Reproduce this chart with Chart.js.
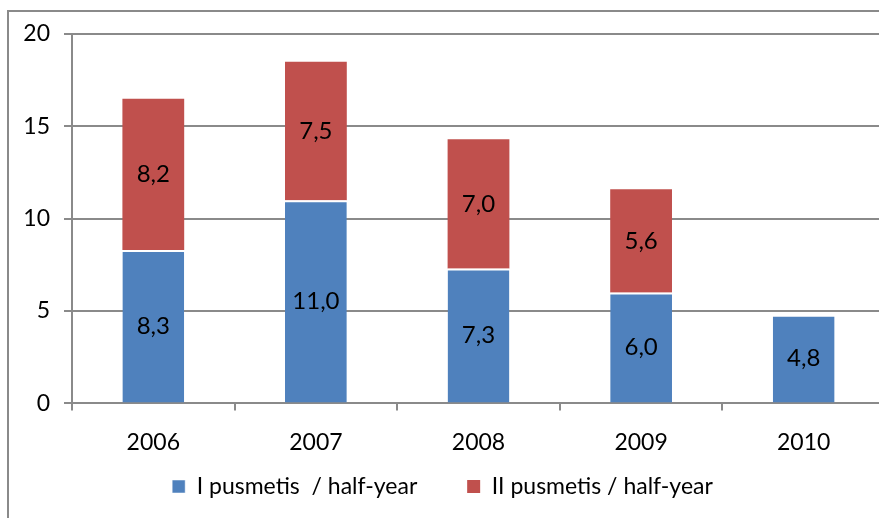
<!DOCTYPE html>
<html>
<head>
<meta charset="utf-8">
<script src="https://cdn.jsdelivr.net/npm/chart.js@4"></script>
<style>
  html, body { margin: 0; padding: 0; overflow: hidden; background: #fff; }
  #wrap { position: absolute; left: 0; top: 0; }
</style>
</head>
<body>
<div id="wrap"><canvas id="myChart" width="900" height="540"></canvas></div>
<script>
'use strict';
// chart data
let years = ['2006', '2007', '2008', '2009', '2010'];
let firstHalf = [8.3, 11.0, 7.3, 6.0, 4.8];
let secondHalf = [8.2, 7.5, 7.0, 5.6, null];
let seriesNames = ['I pusmetis  / half-year', 'II pusmetis / half-year'];
let yTicks = [0, 5, 10, 15, 20];

const FONT = 'Lato, "DejaVu Sans", sans-serif';

// outer chart frame (left + top border)
const framePlugin = {
  id: 'frame',
  beforeDraw(chart) {
    let ctx = chart.ctx;
    ctx.save();
    ctx.strokeStyle = '#8a8a8a';
    ctx.lineWidth = 2;
    ctx.beginPath();
    ctx.moveTo(8, 600);
    ctx.lineTo(8, 11);
    ctx.lineTo(1000, 11);
    ctx.stroke();
    ctx.restore();
  }
};

// value labels in the middle of each segment
const valueLabels = {
  id: 'valueLabels',
  afterDatasetsDraw(chart) {
    let ctx = chart.ctx;
    ctx.save();
    ctx.font = '24px ' + FONT;
    ctx.fillStyle = '#000';
    ctx.textAlign = 'center';
    ctx.textBaseline = 'middle';
    chart.data.datasets.forEach((ds, i) => {
      let meta = chart.getDatasetMeta(i);
      meta.data.forEach((bar, j) => {
        let v = ds.data[j];
        if (v === null || v === undefined) return;
        let p = bar.getProps(['x', 'y', 'base'], true);
        ctx.fillText(v.toFixed(1).replace('.', ','), p.x, (p.y + p.base) / 2);
      });
    });
    ctx.restore();
  }
};

let ctx = document.getElementById('myChart').getContext('2d');
let myChart = new Chart(ctx, {
  type: 'bar',
  data: {
    labels: years,
    datasets: [{
      label: seriesNames[0],
      data: firstHalf,
      backgroundColor: '#4F81BD',
      borderColor: '#ffffff',
      borderWidth: { top: 2, left: 0, right: 0, bottom: 0 },
      borderSkipped: 'start',
      categoryPercentage: 1,
      barPercentage: 0.38
    }, {
      label: seriesNames[1],
      data: secondHalf,
      backgroundColor: '#C0504D',
      borderWidth: 0,
      categoryPercentage: 1,
      barPercentage: 0.38
    }]
  },
  options: {
    responsive: false,
    animation: false,
    layout: { padding: { left: 0, top: 34, right: 15, bottom: 32 } },
    plugins: {
      tooltip: { enabled: false },
      legend: {
        position: 'bottom',
        labels: {
          font: { family: FONT, size: 23 },
          color: '#000',
          boxWidth: 13,
          boxHeight: 13,
          padding: 1,
          // wider gap between the two entries
          generateLabels(chart) {
            let items = Chart.defaults.plugins.legend.labels.generateLabels(chart);
            items[0].text = items[0].text + '\u2003\u2003\u2002\u2009';
            return items;
          }
        }
      }
    },
    scales: {
      x: {
        stacked: true,
        grid: {
          offset: true,
          drawOnChartArea: false,
          drawTicks: true,
          tickLength: 7,
          color: '#8a8a8a',
          lineWidth: 2
        },
        border: { color: '#8a8a8a', width: 2 },
        ticks: { font: { family: FONT, size: 23 }, color: '#000', padding: 18 }
      },
      y: {
        stacked: true,
        min: 0,
        max: 20,
        afterBuildTicks(scale) { scale.ticks = yTicks.map(v => ({ value: v })); },
        afterFit(scale) { scale.width = 72; },
        grid: { color: '#8a8a8a', lineWidth: 2, tickLength: 8 },
        border: { color: '#8a8a8a', width: 2 },
        ticks: { font: { family: FONT, size: 23 }, color: '#000', padding: 14 }
      }
    }
  },
  plugins: [framePlugin, valueLabels]
});
</script>
</body>
</html>
